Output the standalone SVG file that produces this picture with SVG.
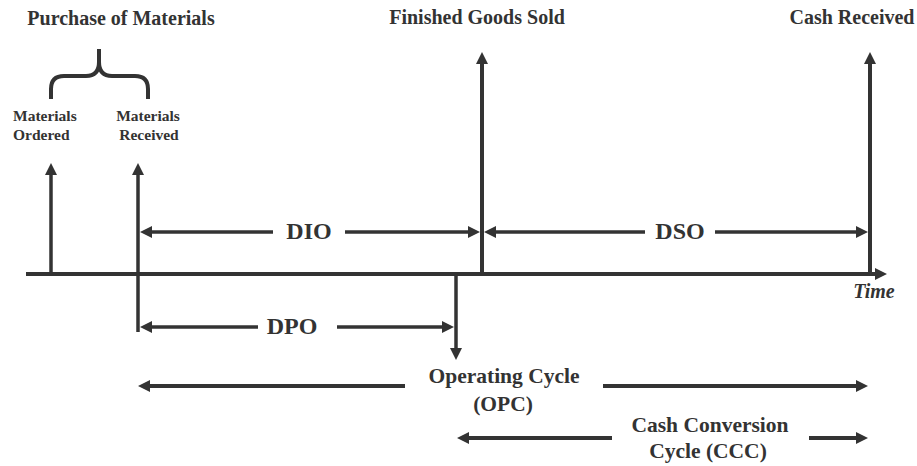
<svg xmlns="http://www.w3.org/2000/svg" width="917" height="466" viewBox="0 0 917 466">
<style>
text{font-family:"Liberation Serif","Times New Roman",serif;fill:#333;font-weight:bold;}
.top{font-size:20px;text-anchor:middle;}
.small{font-size:15.5px;}
.big{font-size:24px;text-anchor:middle;}
.mid{font-size:21.5px;text-anchor:middle;}
.ln{stroke:#333;stroke-width:3.5;fill:none;}
.arr{marker-end:url(#ah);}
</style>
<defs>
<marker id="ah" markerUnits="userSpaceOnUse" markerWidth="12" markerHeight="12" viewBox="0 0 12 12" refX="4" refY="6" orient="auto">
<path d="M0,0 L12,6 L0,12 z" fill="#333"/>
</marker>
</defs>
<rect width="917" height="466" fill="#fff"/>
<g id="connectors">
<line id="timeline" class="ln arr" x1="26" y1="274" x2="879" y2="274" style="stroke-width:4"/>
<line class="ln arr" x1="51" y1="274" x2="51" y2="171"/>
<line class="ln arr" x1="138" y1="332" x2="138" y2="171"/>
<line class="ln arr" x1="482" y1="275" x2="482" y2="60" style="stroke-width:4"/>
<line class="ln arr" x1="870" y1="275" x2="870" y2="60" style="stroke-width:4"/>
<line class="ln arr" x1="456" y1="273" x2="456" y2="352"/>
<line class="ln arr" x1="273" y1="232" x2="148" y2="232"/>
<line class="ln arr" x1="345" y1="232" x2="472" y2="232"/>
<line class="ln arr" x1="645" y1="232" x2="492" y2="232"/>
<line class="ln arr" x1="715" y1="232" x2="860" y2="232"/>
<line class="ln arr" x1="258" y1="327" x2="148" y2="327"/>
<line class="ln arr" x1="337" y1="327" x2="446" y2="327"/>
<line class="ln arr" x1="405" y1="386" x2="146" y2="386" style="stroke-width:4"/>
<line class="ln arr" x1="603" y1="386" x2="860" y2="386" style="stroke-width:4"/>
<line class="ln arr" x1="612" y1="438" x2="465" y2="438" style="stroke-width:4"/>
<line class="ln arr" x1="809" y1="438" x2="860" y2="438" style="stroke-width:4"/>
<path id="brace" class="ln" style="stroke-width:4" d="M51,99 L51,89 Q51,76 64,76 L86,76 Q99,76 99,62 L99,49 M99,62 Q99,76 112,76 L135,76 Q148,76 148,89 L148,99"/>
</g>
<g id="purchase"><text class="top" x="121" y="25">Purchase of Materials</text></g>
<g id="ordered"><text class="small" x="13" y="121">Materials</text><text class="small" x="13" y="140">Ordered</text></g>
<g id="received"><text class="small" x="148" y="121" text-anchor="middle">Materials</text><text class="small" x="149" y="140" text-anchor="middle">Received</text></g>
<g id="finished"><text class="top" x="477" y="24">Finished Goods Sold</text></g>
<g id="cash"><text class="top" x="852" y="24">Cash Received</text></g>
<g id="dio"><text class="big" x="309" y="239">DIO</text></g>
<g id="dso"><text class="big" x="680" y="239">DSO</text></g>
<g id="dpo"><text class="big" x="292" y="334">DPO</text></g>
<g id="time"><text x="874" y="298" text-anchor="middle" style="font-size:20px;font-style:italic">Time</text></g>
<g id="opc"><text class="mid" x="504" y="383">Operating Cycle</text><text class="mid" x="503" y="411">(OPC)</text></g>
<g id="ccc"><text class="mid" x="710" y="432">Cash Conversion</text><text class="mid" x="708" y="458">Cycle (CCC)</text></g>
</svg>
